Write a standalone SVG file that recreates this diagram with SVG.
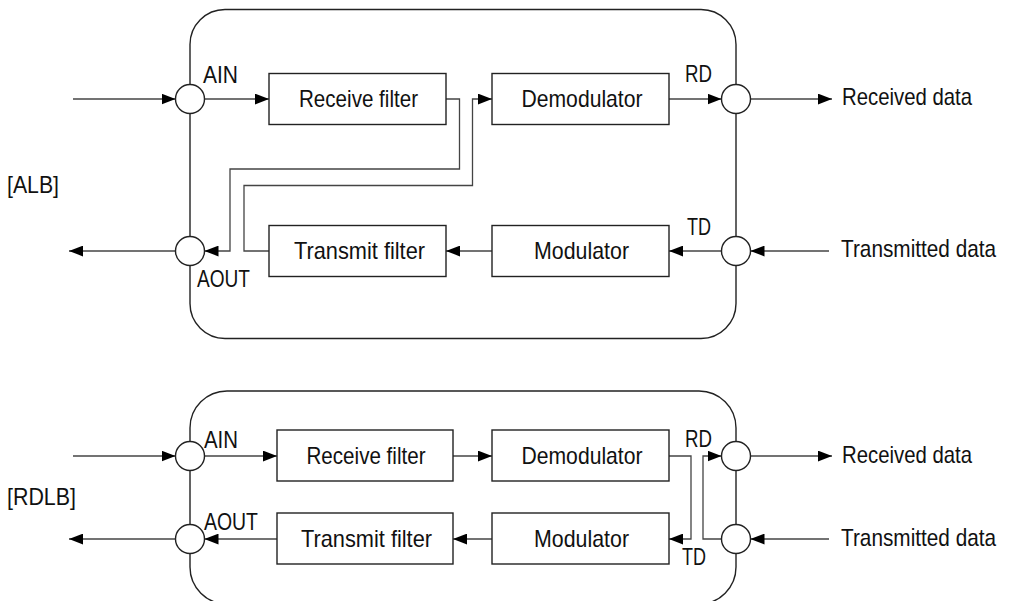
<svg xmlns="http://www.w3.org/2000/svg" width="1009" height="601" viewBox="0 0 1009 601">
<style>
text{font-family:"Liberation Sans Narrow","Liberation Sans",Arial,sans-serif;font-size:24px;fill:#111;}
.frame{fill:none;stroke:#222;stroke-width:1.4;}
.box{fill:#fff;stroke:#222;stroke-width:1.4;}
.port{fill:#fff;stroke:#222;stroke-width:1.4;}
.c{fill:none;stroke:#444;stroke-width:1.3;}
.m{text-anchor:middle;}
</style>
<defs>
<marker id="ah" markerUnits="userSpaceOnUse" markerWidth="14" markerHeight="11" viewBox="0 0 13 10" refX="13" refY="5" orient="auto">
<path d="M0,0 L13,5 L0,10 z" fill="#000"/>
</marker>
</defs>

<g id="frame-alb"><rect class="frame" x="190" y="9.5" width="546" height="329" rx="35" ry="35"/></g>
<g id="frame-rdlb"><rect class="frame" x="190" y="391" width="546" height="213" rx="37" ry="37"/></g>

<g id="label-alb"><text x="7" y="193" textLength="52" lengthAdjust="spacingAndGlyphs">[ALB]</text></g>
<g id="label-rdlb"><text x="7" y="505" textLength="69" lengthAdjust="spacingAndGlyphs">[RDLB]</text></g>

<g id="connectors">
<path class="c" d="M73,99 H175.5" marker-end="url(#ah)"/>
<path class="c" d="M204.5,99 H269" marker-end="url(#ah)"/>
<path class="c" d="M446,99 H459.5 V169 H230 V251 H204.5" marker-end="url(#ah)"/>
<path class="c" d="M269,251 H244 V185.5 H472.5 V99 H492" marker-end="url(#ah)"/>
<path class="c" d="M669,99 H721.5" marker-end="url(#ah)"/>
<path class="c" d="M750.5,99 H832" marker-end="url(#ah)"/>
<path class="c" d="M829,251 H750.5" marker-end="url(#ah)"/>
<path class="c" d="M721.5,251 H669" marker-end="url(#ah)"/>
<path class="c" d="M492,251 H446" marker-end="url(#ah)"/>
<path class="c" d="M175.5,251 H69" marker-end="url(#ah)"/>

<path class="c" d="M73,456 H175.5" marker-end="url(#ah)"/>
<path class="c" d="M204.5,456 H277" marker-end="url(#ah)"/>
<path class="c" d="M453,456 H492" marker-end="url(#ah)"/>
<path class="c" d="M669,456 H691 V539 H669" marker-end="url(#ah)"/>
<path class="c" d="M721.5,539 H703 V456 H721.5" marker-end="url(#ah)"/>
<path class="c" d="M750.5,456 H832" marker-end="url(#ah)"/>
<path class="c" d="M829,539 H750.5" marker-end="url(#ah)"/>
<path class="c" d="M492,539 H453" marker-end="url(#ah)"/>
<path class="c" d="M277,539 H204.5" marker-end="url(#ah)"/>
<path class="c" d="M175.5,539 H69" marker-end="url(#ah)"/>
</g>

<g id="alb-ain"><circle class="port" cx="190" cy="99" r="14.5"/><text x="203" y="83" textLength="35" lengthAdjust="spacingAndGlyphs">AIN</text></g>
<g id="alb-aout"><circle class="port" cx="190" cy="251" r="14.5"/><text x="197" y="287" textLength="53" lengthAdjust="spacingAndGlyphs">AOUT</text></g>
<g id="alb-rd"><circle class="port" cx="736" cy="99" r="14.5"/><text x="685" y="82" textLength="27" lengthAdjust="spacingAndGlyphs">RD</text></g>
<g id="alb-td"><circle class="port" cx="736" cy="251" r="14.5"/><text x="687" y="235" textLength="24" lengthAdjust="spacingAndGlyphs">TD</text></g>
<g id="alb-receive-filter"><rect class="box" x="269" y="73.5" width="177" height="51"/><text class="m" x="358.5" y="107" textLength="119" lengthAdjust="spacingAndGlyphs">Receive filter</text></g>
<g id="alb-demodulator"><rect class="box" x="492" y="73.5" width="177" height="51"/><text class="m" x="582" y="107" textLength="121" lengthAdjust="spacingAndGlyphs">Demodulator</text></g>
<g id="alb-transmit-filter"><rect class="box" x="269" y="225.5" width="177" height="51"/><text class="m" x="359.5" y="259" textLength="131" lengthAdjust="spacingAndGlyphs">Transmit filter</text></g>
<g id="alb-modulator"><rect class="box" x="492" y="225.5" width="177" height="51"/><text class="m" x="581.5" y="259" textLength="95" lengthAdjust="spacingAndGlyphs">Modulator</text></g>
<g id="alb-received-data"><text x="842" y="105" textLength="130" lengthAdjust="spacingAndGlyphs">Received data</text></g>
<g id="alb-transmitted-data"><text transform="translate(841,257) scale(0.866,1)" x="0" y="0">Transmitted data</text></g>

<g id="rdlb-ain"><circle class="port" cx="190" cy="456" r="14.5"/><text x="204" y="448" textLength="34" lengthAdjust="spacingAndGlyphs">AIN</text></g>
<g id="rdlb-aout"><circle class="port" cx="190" cy="539" r="14.5"/><text x="204" y="530" textLength="54" lengthAdjust="spacingAndGlyphs">AOUT</text></g>
<g id="rdlb-rd"><circle class="port" cx="736" cy="456" r="14.5"/><text x="685" y="447" textLength="27" lengthAdjust="spacingAndGlyphs">RD</text></g>
<g id="rdlb-td"><circle class="port" cx="736" cy="539" r="14.5"/><text x="682" y="565" textLength="24" lengthAdjust="spacingAndGlyphs">TD</text></g>
<g id="rdlb-receive-filter"><rect class="box" x="277" y="430" width="176" height="51"/><text class="m" x="366" y="464" textLength="119" lengthAdjust="spacingAndGlyphs">Receive filter</text></g>
<g id="rdlb-demodulator"><rect class="box" x="492" y="430" width="177" height="51"/><text class="m" x="582" y="464" textLength="121" lengthAdjust="spacingAndGlyphs">Demodulator</text></g>
<g id="rdlb-transmit-filter"><rect class="box" x="277" y="513" width="176" height="51"/><text class="m" x="366.5" y="547" textLength="131" lengthAdjust="spacingAndGlyphs">Transmit filter</text></g>
<g id="rdlb-modulator"><rect class="box" x="492" y="513" width="177" height="51"/><text class="m" x="581.5" y="547" textLength="95" lengthAdjust="spacingAndGlyphs">Modulator</text></g>
<g id="rdlb-received-data"><text x="842" y="463" textLength="130" lengthAdjust="spacingAndGlyphs">Received data</text></g>
<g id="rdlb-transmitted-data"><text transform="translate(841,546) scale(0.866,1)" x="0" y="0">Transmitted data</text></g>
</svg>
